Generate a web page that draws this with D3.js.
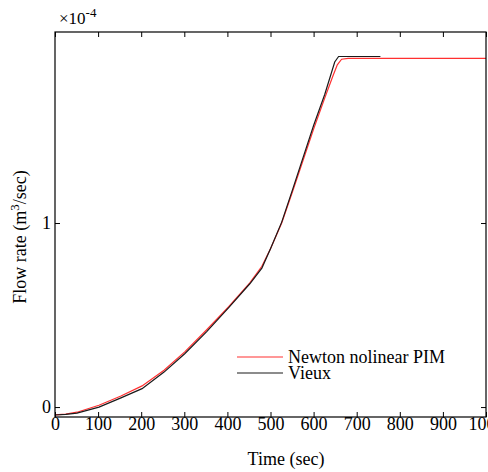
<!DOCTYPE html>
<html>
<head>
  <meta charset="utf-8">
  <script src="https://d3js.org/d3.v7.min.js"></script>
  <style>
    body { margin: 0; background: #fff; overflow: hidden; }
    svg { display: block; }
    text { font-family: "Liberation Serif", "Times New Roman", serif; fill: #000; }
  </style>
</head>
<body>
<script>
// flow values are in units of 1e-4 m^3/sec
var timeVieux = [0, 25, 51, 102, 153, 202, 253, 301, 352, 403, 452, 480, 500, 526, 551, 600, 626, 649, 658, 700, 755];
var flowVieux = [-0.043, -0.04, -0.033, 0.0, 0.05, 0.10, 0.19, 0.29, 0.41, 0.54, 0.67, 0.755, 0.86, 1.005, 1.18, 1.53, 1.70, 1.875, 1.905, 1.905, 1.905];

var timePIM = [0, 25, 51, 102, 153, 202, 253, 301, 352, 403, 452, 480, 500, 526, 551, 600, 626, 645, 655, 665, 680, 800, 1000];
var flowPIM = [-0.043, -0.038, -0.028, 0.01, 0.06, 0.115, 0.20, 0.30, 0.42, 0.545, 0.675, 0.765, 0.86, 1.00, 1.17, 1.51, 1.68, 1.80, 1.86, 1.89, 1.895, 1.895, 1.895];

var xTicks = [0, 100, 200, 300, 400, 500, 600, 700, 800, 900, 1000];
var yTicks = [0, 1];
var legendLabels = ["Newton nolinear PIM", "Vieux"];
var colors = ["#ff3030", "#1a1a1a"];

var W = 488, H = 472;
var mLeft = 55, mRight = 486, mTop = 32, mBottom = 417;

var svg = d3.select("body").append("svg").attr("width", W).attr("height", H);

var x = d3.scaleLinear().domain([0, 1000]).range([mLeft, mRight]);
var y = d3.scaleLinear().domain([-0.054, 2.038]).range([mBottom, mTop]);

svg.append("clipPath").attr("id", "clip")
  .append("rect").attr("x", mLeft).attr("y", mTop).attr("width", mRight - mLeft).attr("height", mBottom - mTop);

var line = d3.line().x(function(d) { return x(d[0]); }).y(function(d) { return y(d[1]); });

var series = [d3.zip(timePIM, flowPIM), d3.zip(timeVieux, flowVieux)];
series.forEach(function(s, i) {
  svg.append("path").datum(s)
    .attr("clip-path", "url(#clip)")
    .attr("fill", "none")
    .attr("stroke", colors[i])
    .attr("stroke-width", 1.2)
    .attr("d", line);
});

// axes, ticks inward, mirrored on top/right
var fs = 18;
var xAxis = d3.axisBottom(x).tickValues(xTicks).tickSizeInner(-5).tickSizeOuter(0).tickPadding(0).tickFormat(d3.format("d"));
svg.append("g").attr("transform", "translate(0," + mBottom + ")").call(xAxis);
var xTop = d3.axisTop(x).tickValues(xTicks).tickSizeInner(-5).tickSizeOuter(0).tickFormat("");
svg.append("g").attr("transform", "translate(0," + mTop + ")").call(xTop);

var yAxis = d3.axisLeft(y).tickValues(yTicks).tickSizeInner(-5).tickSizeOuter(0).tickPadding(4).tickFormat(d3.format("d"));
svg.append("g").attr("transform", "translate(" + mLeft + ",0)").call(yAxis);
var yRight = d3.axisRight(y).tickValues(yTicks).tickSizeInner(-5).tickSizeOuter(0).tickFormat("");
svg.append("g").attr("transform", "translate(" + mRight + ",0)").call(yRight);

svg.selectAll(".tick text").attr("font-family", null).style("font-size", fs + "px").attr("fill", "#000");
svg.selectAll(".domain").remove();
svg.selectAll(".tick line").attr("stroke", "#000");
svg.append("rect").attr("x", mLeft).attr("y", mTop).attr("width", mRight - mLeft).attr("height", mBottom - mTop)
  .attr("fill", "none").attr("stroke", "#000").attr("stroke-width", 1.2);

// exponent label
var ex = svg.append("text").attr("x", 59).attr("y", 24).style("font-size", "17px");
ex.append("tspan").text("\u00d710");
ex.append("tspan").attr("dy", -7).style("font-size", "13px").text("-4");

// axis titles
svg.append("text").attr("x", 286).attr("y", 465).attr("text-anchor", "middle")
  .style("font-size", fs + "px").text("Time (sec)");
var yl = svg.append("text").attr("transform", "translate(26,237) rotate(-90)").attr("text-anchor", "middle")
  .style("font-size", fs + "px");
yl.append("tspan").text("Flow rate (m");
yl.append("tspan").attr("dy", -7).style("font-size", "13px").text("3");
yl.append("tspan").attr("dy", 7).text("/sec)");

// legend
var lg = svg.append("g");
legendLabels.forEach(function(lab, i) {
  var ly = 357 + i * 16;
  lg.append("line").attr("x1", 237).attr("x2", 283).attr("y1", ly).attr("y2", ly)
    .attr("stroke", colors[i]).attr("stroke-width", 1.2);
  lg.append("text").attr("x", 288).attr("y", ly + 6).style("font-size", fs + "px").text(lab);
});
</script>
</body>
</html>
